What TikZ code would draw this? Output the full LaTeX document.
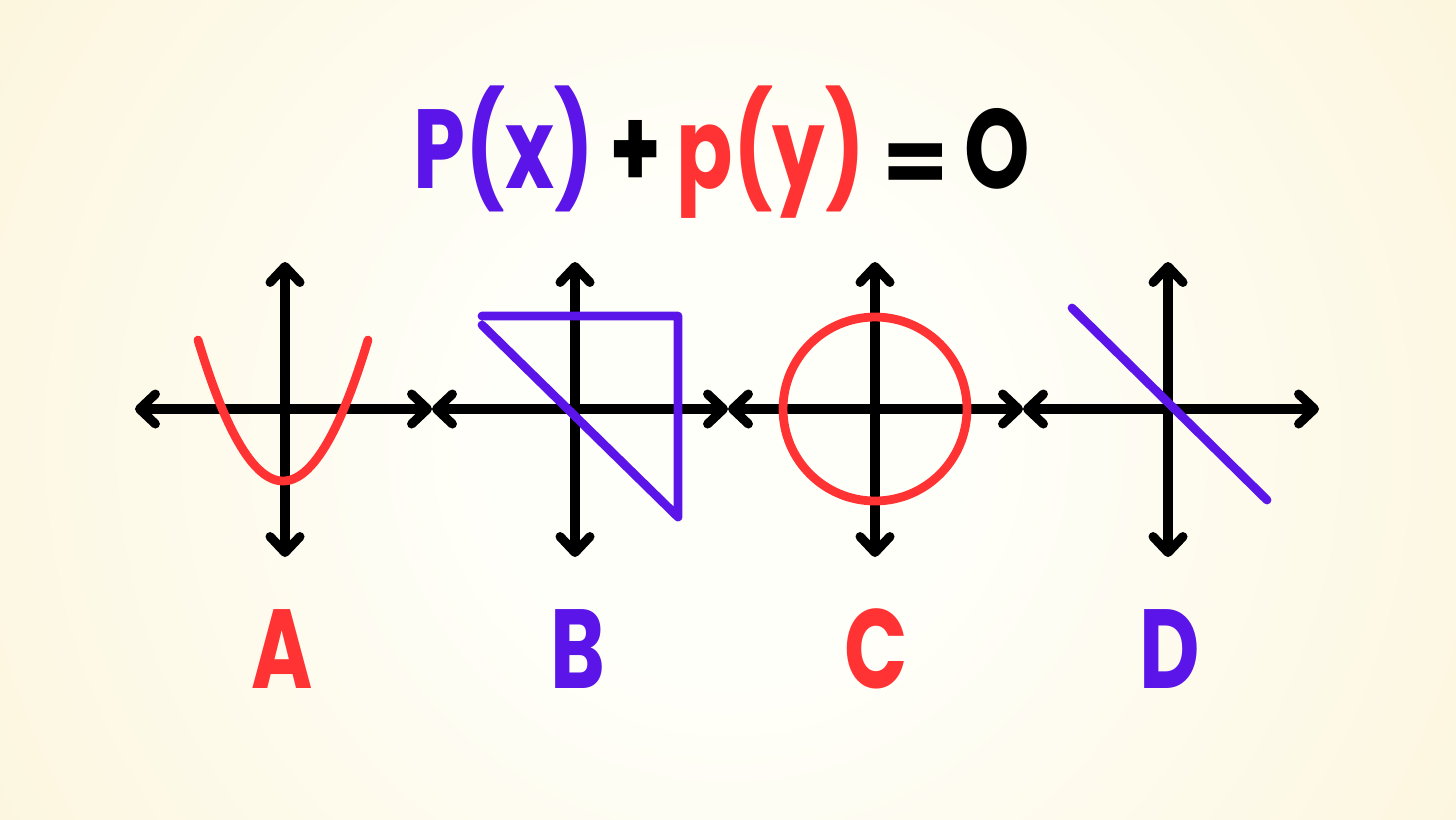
\documentclass[tikz,border=0pt]{standalone}
\usepackage{fontspec}
\setmainfont{Poppins}
\usepackage{tikz}
\usetikzlibrary{arrows.meta,calc}
\definecolor{penpurple}{RGB}{92, 21, 232}
\definecolor{penred}{RGB}{255, 51, 51}
\definecolor{paperlight}{RGB}{255, 255, 250}
\definecolor{papermid}{RGB}{253, 248, 228}
\definecolor{paperwarm}{RGB}{247, 236, 198}
\definecolor{paperedge}{RGB}{245, 231, 187}
\pgfdeclareradialshading{paperglow}{\pgfpoint{0bp}{0bp}}{%
  color(0bp)=(paperlight); color(6bp)=(paperlight); color(20bp)=(papermid);
  color(39bp)=(paperwarm); color(50bp)=(paperedge)}
\newcommand{\narrowtext}[1]{\scalebox{0.74}[1]{#1}}

\begin{document}
\begin{tikzpicture}[x=0.02cm, y=-0.02cm,
    axis/.style={line width=5.2pt, line cap=round,
      {Straight Barb[length=9pt,width=17pt,round]}-{Straight Barb[length=9pt,width=17pt,round]}},
    curve/.style={line width=5pt, line cap=round, line join=round},
    glyph/.style={anchor=base, inner sep=0pt, font=\fontsize{64}{64}\selectfont\bfseries}]
    % background
    \useasboundingbox (0,0) rectangle (1456,819);
    \begin{scope}
        \clip (0,0) rectangle (1456,819);
        \fill[paperedge] (0,0) rectangle (1456,819);
        \shade[shading=paperglow] (728,440) circle[radius=18cm];
    \end{scope}

    % title
    \node[glyph, text=penpurple] (px) at (504,188) {\narrowtext{P(x)}};
    \node[glyph] (plus) at (636,188) {\narrowtext{+}};
    \node[glyph, text=penred] (py) at (771,188) {\narrowtext{p(y)}};
    \node[glyph] (eq) at (916,193) {\scalebox{0.85}[0.8]{=}};
    \node[glyph] (zero) at (997,188) {\narrowtext{O}};

    % horizontal axes, tips meeting at the joints
    \foreach \i/\xa in {0/135, 1/432, 2/728, 3/1023, 4/1319}
        \coordinate (h\i) at (\xa,409);
    \foreach \i/\j in {0/1, 1/2, 2/3, 3/4}
        \draw[axis] (h\i) -- (h\j);

    % vertical axes
    \foreach \name/\xa in {A/285, B/575, C/875, D/1168} {
        \coordinate (top\name) at (\xa,262);
        \coordinate (bot\name) at (\xa,557);
        \draw[axis] (top\name) -- (bot\name);
    }

    % A: parabola
    \draw[curve, color=penred] plot[domain=198:368, samples=60] (\x, {481 - 0.01952*(\x-283)^2});

    % B: triangle
    \draw[curve, color=penpurple] (482,316) -- (678,316) -- (678,517) -- (482,325);

    % C: circle
    \coordinate (oC) at (875,409);
    \draw[curve, color=penred] (oC) circle[radius=1.84cm];

    % D: line
    \coordinate (d1) at (1072,308);
    \coordinate (d2) at (1267,500);
    \draw[curve, color=penpurple] (d1) -- (d2);

    % labels
    \node[glyph, text=penred] (labA) at (282,688) {\narrowtext{A}};
    \node[glyph, text=penpurple] (labB) at (578,688) {\narrowtext{B}};
    \node[glyph, text=penred] (labC) at (876,688) {\narrowtext{C}};
    \node[glyph, text=penpurple] (labD) at (1170,688) {\narrowtext{D}};
\end{tikzpicture}
\end{document}
